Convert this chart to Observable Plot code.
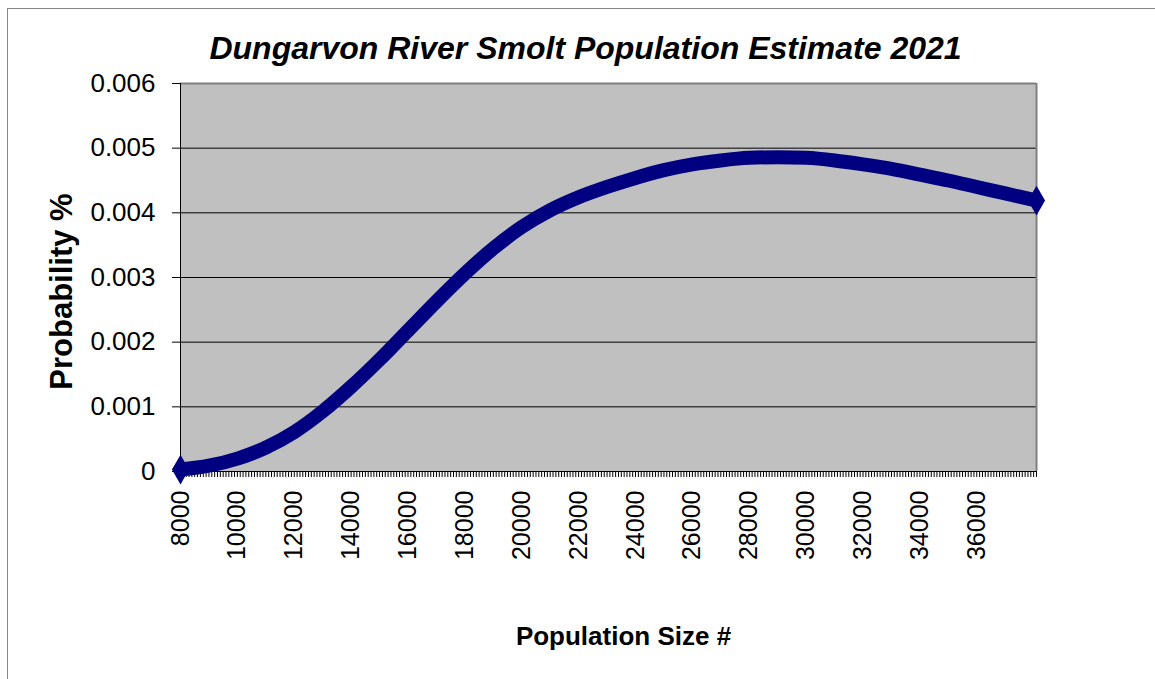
<!DOCTYPE html>
<html>
<head>
<meta charset="utf-8">
<script src="https://cdn.jsdelivr.net/npm/d3@7"></script>
<script src="https://cdn.jsdelivr.net/npm/@observablehq/plot@0.6"></script>
<style>
  html, body { margin: 0; padding: 0; background: #fff; }
  #wrap { position: relative; width: 1155px; height: 679px; overflow: hidden; }
  #border { position: absolute; left: 7px; top: 8px; width: 1170px; height: 700px; border: 1px solid #868686; box-sizing: border-box; }
  #chart { position: absolute; left: 0; top: 0; }
</style>
</head>
<body>
<div id="wrap"><div id="border"></div><div id="chart"></div></div>
<script>
// ---- data ----
const title = "Dungarvon River Smolt Population Estimate 2021";
const xTitle = "Population Size #";
const yTitle = "Probability %";

const populations = [8000, 9000, 10000, 11000, 12000, 13000, 14000, 15000, 16000, 17000,
  18000, 19000, 20000, 21000, 22000, 23000, 24000, 25000, 26000, 27000,
  28000, 29000, 30000, 31000, 32000, 33000, 34000, 35000, 36000, 37000, 38000, 38100];
const probabilities = [0.00003, 0.00009, 0.00020, 0.00037, 0.00061, 0.00093, 0.00131, 0.00173, 0.00218, 0.00263,
  0.00306, 0.00345, 0.00378, 0.00404, 0.00424, 0.00440, 0.00454, 0.00466, 0.00475, 0.00481,
  0.00485, 0.00486, 0.00485, 0.00481, 0.00475, 0.00468, 0.00459, 0.00450, 0.00440, 0.00430, 0.00420, 0.00419];

const xTickLabels = [8000, 10000, 12000, 14000, 16000, 18000, 20000, 22000, 24000, 26000,
  28000, 30000, 32000, 34000, 36000];
const yTickValues = [0, 0.001, 0.002, 0.003, 0.004, 0.005, 0.006];
const categoryStep = 100;
const firstCategory = 8000, lastCategory = 38100;

// ---- build ----
const data = populations.map((p, i) => ({population: p, probability: probabilities[i]}));
const categoryTicks = d3.range(firstCategory, lastCategory + 1, categoryStep);
const ends = [data[0], data[data.length - 1]];
const navy = "#000080";

const chart = Plot.plot({
  width: 1155,
  height: 679,
  marginLeft: 180,
  marginRight: 119,
  marginTop: 83,
  marginBottom: 208,
  style: {fontFamily: "'Liberation Sans', Arial, sans-serif", background: "transparent", color: "#000"},
  x: {domain: [firstCategory, lastCategory], axis: null},
  y: {domain: [0, 0.006], axis: null},
  marks: [
    Plot.frame({fill: "#c0c0c0", stroke: null}),
    Plot.ruleY(yTickValues.slice(1, -1), {stroke: "#000", strokeWidth: 1}),
    Plot.ruleY([0.006], {stroke: "#808080", strokeWidth: 2}),
    Plot.ruleX([lastCategory], {stroke: "#808080", strokeWidth: 2}),
    Plot.ruleX([firstCategory], {stroke: "#000", strokeWidth: 1}),
    Plot.ruleY([0], {stroke: "#000", strokeWidth: 1}),
    Plot.axisX(categoryTicks, {anchor: "bottom", tickSize: 6, tickFormat: () => "", stroke: "#000", strokeWidth: 1, label: null}),
    Plot.axisY(yTickValues, {anchor: "left", tickSize: 8, tickPadding: 17, fontSize: 26, stroke: "#000",
      tickFormat: d => d === 0 ? "0" : d3.format(".3f")(d), label: null}),
    Plot.text(xTickLabels, {x: d => d, text: d => String(d), frameAnchor: "bottom", rotate: -90, textAnchor: "end",
      lineAnchor: "middle", dy: 19, fontSize: 25, fill: "#000"}),
    Plot.line(data, {x: "population", y: "probability", stroke: navy, strokeWidth: 14,
      curve: "monotone-x", strokeLinejoin: "round"}),
    Plot.dot(ends, {x: "population", y: "probability", symbol: "diamond", r: 9, fill: navy, stroke: null}),
    Plot.text([title], {frameAnchor: "top", lineAnchor: "middle", textAnchor: "middle", dx: -23, dy: -35, fontSize: 32,
      fontWeight: "bold", fontStyle: "italic", fill: "#000"}),
    Plot.text([xTitle], {frameAnchor: "bottom", lineAnchor: "middle", textAnchor: "middle", dx: 15, dy: 165,
      fontSize: 26, fontWeight: "bold", fill: "#000"}),
    Plot.text([yTitle], {frameAnchor: "left", lineAnchor: "middle", textAnchor: "middle", rotate: -90, dx: -118, dy: 14,
      fontSize: 31, fontWeight: "bold", fill: "#000"})
  ]
});
document.getElementById("chart").appendChild(chart);
</script>
</body>
</html>
